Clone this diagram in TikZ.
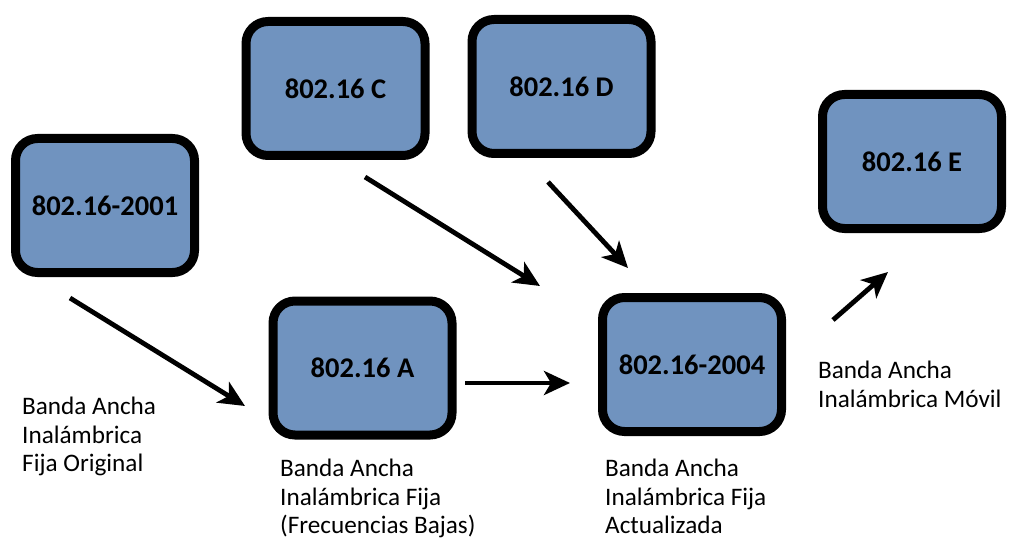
\documentclass[tikz,border=0pt]{standalone}
\usepackage{fontspec}
\setmainfont{Carlito}
\usetikzlibrary{arrows.meta}
\definecolor{boxblue}{RGB}{112,147,191}
\begin{document}
\begin{tikzpicture}[x=1pt,y=-1pt,
  stdbox/.style={draw=black, line width=9pt, fill=boxblue, rounded corners=22pt,
    minimum width=179pt, minimum height=134pt, inner sep=0pt,
    font=\bfseries\fontsize{28.5}{32}\selectfont},
  caption/.style={anchor=north west, inner sep=0pt, align=left,
    font=\fontsize{25.2}{28.4}\selectfont},
  evo/.style={line width=4.8pt, -{Stealth[length=26pt,width=24pt,inset=7pt]}}
]
\useasboundingbox (0,0) rectangle (1011,540);

% standards
\node[stdbox] (s2001) at (105,205.5) {802.16-2001};
\node[stdbox] (sC)    at (335.5,88.5) {802.16 C};
\node[stdbox] (sD)    at (561.5,86.5) {802.16 D};
\node[stdbox] (sE)    at (912,161.5)  {802.16 E};
\node[stdbox] (sA)    at (362.5,368)  {802.16 A};
\node[stdbox] (s2004) at (692,364.5)  {802.16-2004};

% descriptions
\node[caption] (d2001) at (22,397) {Banda Ancha\\Inalámbrica\\Fija Original};
\node[caption] (dA)    at (280,459) {Banda Ancha\\Inalámbrica Fija\\(Frecuencias Bajas)};
\node[caption] (d2004) at (605,459) {Banda Ancha\\Inalámbrica Fija\\Actualizada};
\node[caption] (dE)    at (818,361) {Banda Ancha\\Inalámbrica Móvil};

% free arrow ends
\coordinate (a1s) at (70,298);   \coordinate (a1e) at (245,406);
\coordinate (a2s) at (365,177);  \coordinate (a2e) at (540,286);
\coordinate (a3s) at (548,182);  \coordinate (a3e) at (628,268);
\coordinate (a4s) at (465,383);  \coordinate (a4e) at (570,383);
\coordinate (a5s) at (833,320);  \coordinate (a5e) at (888,272);

\draw[evo] (a1s) -- (a1e);
\draw[evo] (a2s) -- (a2e);
\draw[evo] (a3s) -- (a3e);
\draw[evo] (a4s) -- (a4e);
\draw[evo] (a5s) -- (a5e);
\end{tikzpicture}
\end{document}
